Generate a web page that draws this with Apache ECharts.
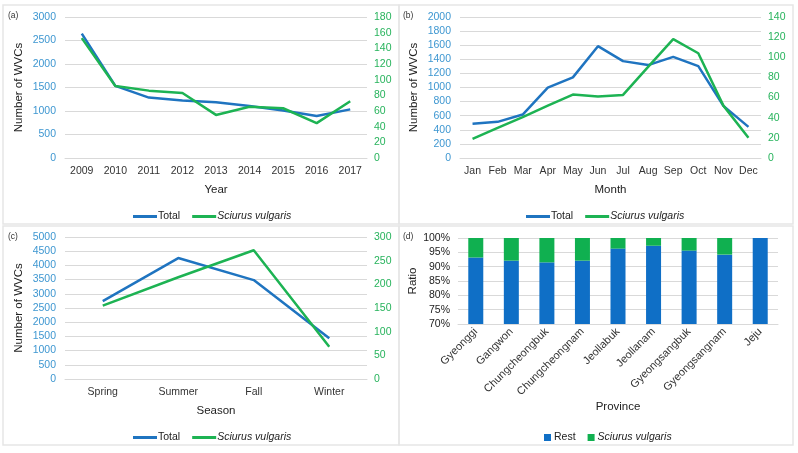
<!DOCTYPE html>
<html>
<head>
<meta charset="utf-8">
<script src="https://cdn.jsdelivr.net/npm/echarts@6/dist/echarts.min.js"></script>
<style>
  html, body { margin: 0; padding: 0; background: #fff; }
  #chart { width: 798px; height: 453px; }
</style>
</head>
<body>
<div id="chart"></div>
<script>
const years = ['2009', '2010', '2011', '2012', '2013', '2014', '2015', '2016', '2017']
const yearTotal = [2645, 1535, 1285, 1222, 1185, 1108, 1010, 895, 1035]
const yearSciurus = [153, 92, 86, 83, 55, 65.5, 63.5, 44.5, 72.5]

const months = ['Jan', 'Feb', 'Mar', 'Apr', 'May', 'Jun', 'Jul', 'Aug', 'Sep', 'Oct', 'Nov', 'Dec']
const monthTotal = [485, 513, 616, 998, 1144, 1586, 1374, 1318, 1435, 1304, 739, 442]
const monthSciurus = [19, 30, 40.5, 52, 63, 61, 62.6, 90.5, 118, 104, 52, 20]

const seasons = ['Spring', 'Summer', 'Fall', 'Winter']
const seasonTotal = [2741, 4259, 3482, 1435]
const seasonSciurus = [155, 215, 272, 68]

const provinces = ['Gyeonggi', 'Gangwon', 'Chungcheongbuk', 'Chungcheongnam', 'Jeollabuk', 'Jeollanam', 'Gyeongsangbuk', 'Gyeongsangnam', 'Jeju']
const provinceRest = [93.2, 92.1, 91.5, 92.1, 96.3, 97.3, 95.6, 94.2, 100]
const provinceSciurus = provinceRest.map((v) => +(100 - v).toFixed(1))

const BLUE = '#1f74c0'
const GREEN = '#1db353'
const LEFT_LABEL = '#3e97d1'
const RIGHT_LABEL = '#27b35c'
const GRID_LINE = '#d9d9d9'
const FONT = 'Liberation Sans, Arial, sans-serif'

const chart = echarts.init(document.getElementById('chart'))

const grids = [
  { left: 65, top: 17, width: 302, height: 141 },
  { left: 460, top: 17, width: 301, height: 141 },
  { left: 65, top: 237, width: 302, height: 142 },
  { left: 458, top: 238, width: 320, height: 86 }
]

function catAxis(gridIndex, data, name, extra) {
  return Object.assign({
    type: 'category',
    gridIndex,
    data,
    name,
    nameLocation: 'middle',
    nameGap: 26,
    nameTextStyle: { color: '#222', fontSize: 11.5, fontFamily: FONT },
    axisLine: { lineStyle: { color: GRID_LINE } },
    axisTick: { show: false },
    axisLabel: { color: '#333', fontSize: 10.5, fontFamily: FONT, margin: 8, interval: 0 }
  }, extra || {})
}

function valAxis(gridIndex, max, interval, side, extra) {
  const left = side === 'left'
  return Object.assign({
    type: 'value',
    gridIndex,
    position: side,
    min: 0,
    max,
    interval,
    name: left ? 'Number of WVCs' : '',
    nameLocation: 'middle',
    nameGap: 40,
    nameTextStyle: { color: '#222', fontSize: 11.5, fontFamily: FONT },
    axisLine: { show: false },
    axisTick: { show: false },
    splitLine: { show: left, lineStyle: { color: GRID_LINE } },
    axisLabel: {
      color: left ? LEFT_LABEL : RIGHT_LABEL, fontSize: 10.5, fontFamily: FONT,
      margin: left ? 9 : 7, formatter: (v) => String(v)
    }
  }, extra || {})
}

function lineSeries(name, xi, yi, data, color) {
  return {
    type: 'line',
    name,
    xAxisIndex: xi,
    yAxisIndex: yi,
    data,
    symbol: 'none',
    lineStyle: { color, width: 2.5 },
    itemStyle: { color },
    z: name === 'Total' ? 2 : 3
  }
}

const legendRich = {
  n: { fontSize: 10.5, fontFamily: FONT, color: '#222' },
  i: { fontSize: 10.5, fontFamily: FONT, color: '#222', fontStyle: 'italic' }
}
const legendFormatter = (name) => name.trim() === 'Sciurus vulgaris' ? '{i|' + name.trim() + '}' : '{n|' + name + '}'

function lineLegend(left, top) {
  return {
    left, top,
    data: ['Total', 'Sciurus vulgaris'],
    icon: 'rect',
    itemWidth: 24,
    itemHeight: 3,
    itemGap: 12,
    formatter: legendFormatter,
    textStyle: { rich: legendRich, padding: [0, 0, 0, -4] }
  }
}

const panelBox = (x, y, w, h) => ({
  type: 'rect',
  shape: { x, y, width: w, height: h },
  style: { fill: 'none', stroke: '#e6e6e6', lineWidth: 1.5 },
  silent: true
})
const panelTag = (x, y, text) => ({
  type: 'text', left: x, top: y,
  style: { text, fontSize: 8.5, fontFamily: FONT, fill: '#333' }
})

const option = {
  animation: false,
  backgroundColor: '#fff',
  graphic: [
    panelBox(3, 5, 396, 219),
    panelBox(399, 5, 394, 219),
    panelBox(3, 226, 396, 219),
    panelBox(399, 226, 394, 219),
    panelTag(8, 11, '(a)'),
    panelTag(403, 11, '(b)'),
    panelTag(8, 232, '(c)'),
    panelTag(403, 232, '(d)')
  ],
  grid: grids,
  legend: [
    lineLegend(128, 206),
    lineLegend(521, 206),
    lineLegend(128, 427),
    {
      left: 539, top: 427,
      data: ['Rest', 'Sciurus vulgaris '],
      icon: 'rect',
      itemWidth: 7,
      itemHeight: 7,
      itemGap: 12,
      formatter: legendFormatter,
      textStyle: { rich: legendRich, padding: [0, 0, 0, -2] }
    }
  ],
  xAxis: [
    catAxis(0, years, 'Year'),
    catAxis(1, months, 'Month'),
    catAxis(2, seasons, 'Season'),
    catAxis(3, provinces, 'Province', {
      nameGap: 75,
      axisLabel: { color: '#333', fontSize: 11, fontFamily: FONT, rotate: 45, margin: 6, interval: 0 }
    })
  ],
  yAxis: [
    valAxis(0, 3000, 500, 'left'),
    valAxis(0, 180, 20, 'right'),
    valAxis(1, 2000, 200, 'left'),
    valAxis(1, 140, 20, 'right'),
    valAxis(2, 5000, 500, 'left'),
    valAxis(2, 300, 50, 'right'),
    valAxis(3, 100, 5, 'left', {
      min: 70,
      name: 'Ratio',
      nameGap: 36,
      axisLabel: { color: '#222', fontSize: 10.5, fontFamily: FONT, margin: 8, formatter: '{value}%' }
    })
  ],
  series: [
    lineSeries('Total', 0, 0, yearTotal, BLUE),
    lineSeries('Sciurus vulgaris', 0, 1, yearSciurus, GREEN),
    lineSeries('Total', 1, 2, monthTotal, BLUE),
    lineSeries('Sciurus vulgaris', 1, 3, monthSciurus, GREEN),
    lineSeries('Total', 2, 4, seasonTotal, BLUE),
    lineSeries('Sciurus vulgaris', 2, 5, seasonSciurus, GREEN),
    {
      type: 'bar', name: 'Rest', xAxisIndex: 3, yAxisIndex: 6, stack: 'ratio',
      data: provinceRest, barWidth: 15, itemStyle: { color: '#0f6fc6' }
    },
    {
      type: 'bar', name: 'Sciurus vulgaris ', xAxisIndex: 3, yAxisIndex: 6, stack: 'ratio',
      data: provinceSciurus, barWidth: 15, itemStyle: { color: '#10b050' }
    }
  ]
}

chart.setOption(option)
</script>
</body>
</html>
